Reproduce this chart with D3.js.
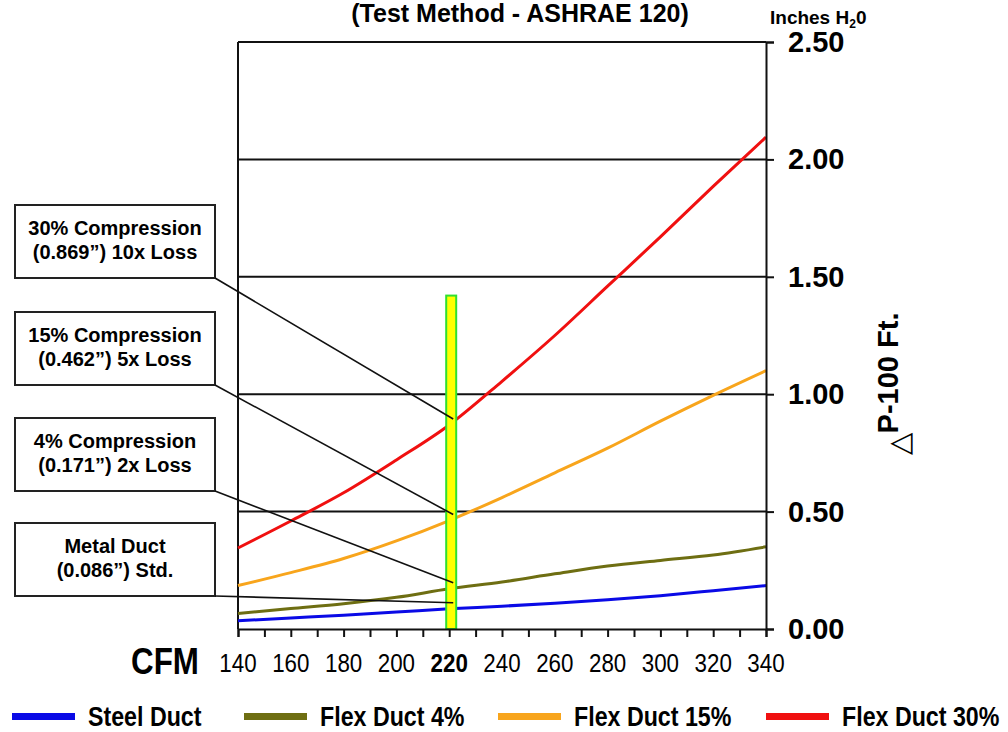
<!DOCTYPE html>
<html><head><meta charset="utf-8">
<script src="https://cdn.jsdelivr.net/npm/d3@7"></script>
<style>
body{margin:0;background:#fff;}
svg{display:block;font-family:"Liberation Sans",Arial,sans-serif;}
</style></head>
<body><svg id="c" width="1008" height="732"></svg>
<script>
const cfm = [140,160,180,200,220,240,260,280,300,320,340];
const steelDuct = [0.035,0.047,0.059,0.072,0.086,0.097,0.110,0.125,0.142,0.163,0.185];
const flex4 = [0.066,0.087,0.108,0.135,0.171,0.200,0.235,0.268,0.292,0.315,0.350];
const flex15 = [0.185,0.240,0.300,0.375,0.462,0.560,0.665,0.770,0.885,0.995,1.100];
const flex30 = [0.345,0.460,0.580,0.720,0.869,1.055,1.250,1.460,1.670,1.885,2.095];
const seriesNames = ["Steel Duct","Flex Duct 4%","Flex Duct 15%","Flex Duct 30%"];
const seriesColors = ["#0a0ae6","#6e6e12","#f8a51c","#f01010"];
const xTickLabels = [140,160,180,200,220,240,260,280,300,320,340];
const yTickLabels = [0,0.5,1,1.5,2,2.5];
const calloutLines = [["30% Compression","(0.869\u201D) 10x Loss"],["15% Compression","(0.462\u201D) 5x Loss"],["4% Compression","(0.171\u201D) 2x Loss"],["Metal Duct","(0.086\u201D) Std."]];
const calloutValues = [0.869,0.462,0.171,0.086];
const highlightCfm = 220, highlightTop = 1.42;

const svg = d3.select("#c");
const x = d3.scaleLinear().domain([140,340]).range([238,766]);
const y = d3.scaleLinear().domain([0,2.5]).range([629,42]);
const allSeries = [steelDuct,flex4,flex15,flex30];

// title (partially cut in the original)
svg.append("text").attr("x",520).attr("y",22).attr("text-anchor","middle")
  .attr("font-weight","bold").attr("font-size",25).text("(Test Method - ASHRAE 120)");

// Inches H2O
const ih = svg.append("text").attr("x",770).attr("y",24).attr("font-weight","bold").attr("font-size",19);
ih.append("tspan").text("Inches H");
ih.append("tspan").attr("font-size",12).attr("dy",4).text("2");
ih.append("tspan").attr("dy",-4).text("0");

// gridlines
svg.append("g").selectAll("line").data(yTickLabels.filter(v=>v>0&&v<2.5)).join("line")
  .attr("x1",x(140)).attr("x2",x(340)).attr("y1",d=>y(d)).attr("y2",d=>y(d))
  .attr("stroke","#111").attr("stroke-width",2);

// frame: top and left
svg.append("line").attr("x1",x(140)).attr("x2",x(340)).attr("y1",y(2.5)).attr("y2",y(2.5)).attr("stroke","#111").attr("stroke-width",2);
svg.append("line").attr("x1",x(140)).attr("x2",x(140)).attr("y1",y(2.5)).attr("y2",y(0)).attr("stroke","#111").attr("stroke-width",2);

// data lines
const line = d3.line().x((d,i)=>x(cfm[i])).y(d=>y(d)).curve(d3.curveMonotoneX);
svg.append("g").selectAll("path").data(allSeries).join("path")
  .attr("d",line).attr("fill","none").attr("stroke",(d,i)=>seriesColors[i]).attr("stroke-width",3);

// highlight bar
svg.append("rect").attr("x",x(highlightCfm)-3).attr("width",10)
  .attr("y",y(highlightTop)).attr("height",y(0)-y(highlightTop))
  .attr("fill","#ffff00").attr("stroke","#2fe02f").attr("stroke-width",2);

// bottom axis
const xAxis = d3.axisBottom(x).tickValues(d3.range(140,341,10)).tickSize(8).tickFormat("");
const gx = svg.append("g").attr("transform",`translate(0,${y(0)})`).call(xAxis);
gx.select(".domain").attr("stroke","#111").attr("stroke-width",2);
gx.selectAll(".tick line").attr("stroke","#111").attr("stroke-width",2);
svg.append("g").selectAll("text").data(xTickLabels).join("text")
  .attr("transform",d=>`translate(${x(d)},672) scale(0.86,1)`)
  .attr("text-anchor","middle").attr("font-size",26)
  .attr("font-weight",d=>d===220?"bold":"normal").text(d=>d);
svg.append("text").attr("transform","translate(165,674) scale(0.87,1)").attr("text-anchor","middle")
  .attr("font-weight","bold").attr("font-size",36).text("CFM");

// right axis
const yAxis = d3.axisRight(y).tickValues(yTickLabels).tickSize(8).tickFormat("");
const gy = svg.append("g").attr("transform",`translate(${x(340)},0)`).call(yAxis);
gy.select(".domain").attr("stroke","#111").attr("stroke-width",2);
gy.selectAll(".tick line").attr("stroke","#111").attr("stroke-width",2);
svg.append("g").selectAll("text").data(yTickLabels).join("text")
  .attr("x",788).attr("y",d=>y(d)+10).attr("font-weight","bold").attr("font-size",29)
  .text(d=>d3.format(".2f")(d));

// y title
const yt = svg.append("text").attr("transform","translate(898,384) rotate(-90)")
  .attr("text-anchor","middle").attr("font-weight","bold").attr("font-size",29);
yt.append("tspan").attr("dy",11).attr("font-weight","normal").text("\u25B3");
yt.append("tspan").attr("dy",-11).text("P-100 Ft.");

// callouts
const boxTop = [205,312,418,523];
calloutLines.forEach((lines,i)=>{
  const g = svg.append("g");
  g.append("rect").attr("x",15).attr("y",boxTop[i]).attr("width",200).attr("height",73)
    .attr("fill","#fff").attr("stroke","#222").attr("stroke-width",2);
  lines.forEach((t,j)=>{
    g.append("text").attr("x",115).attr("y",boxTop[i]+30+j*24).attr("text-anchor","middle")
      .attr("font-weight","bold").attr("font-size",20).text(t);
  });
  svg.append("line").attr("x1",215).attr("y1",boxTop[i]+73)
    .attr("x2",x(highlightCfm)+4).attr("y2",y(calloutValues[i])-6)
    .attr("stroke","#111").attr("stroke-width",1.6);
});

// legend
const legX = [12,244,498,766];
const legG = svg.append("g");
seriesNames.forEach((n,i)=>{
  legG.append("rect").attr("x",legX[i]).attr("y",713).attr("width",63).attr("height",7).attr("fill",seriesColors[i]);
  legG.append("text").attr("transform",`translate(${legX[i]+76},726) scale(0.86,1)`)
    .attr("font-weight","bold").attr("font-size",27).text(n);
});
</script></body></html>
